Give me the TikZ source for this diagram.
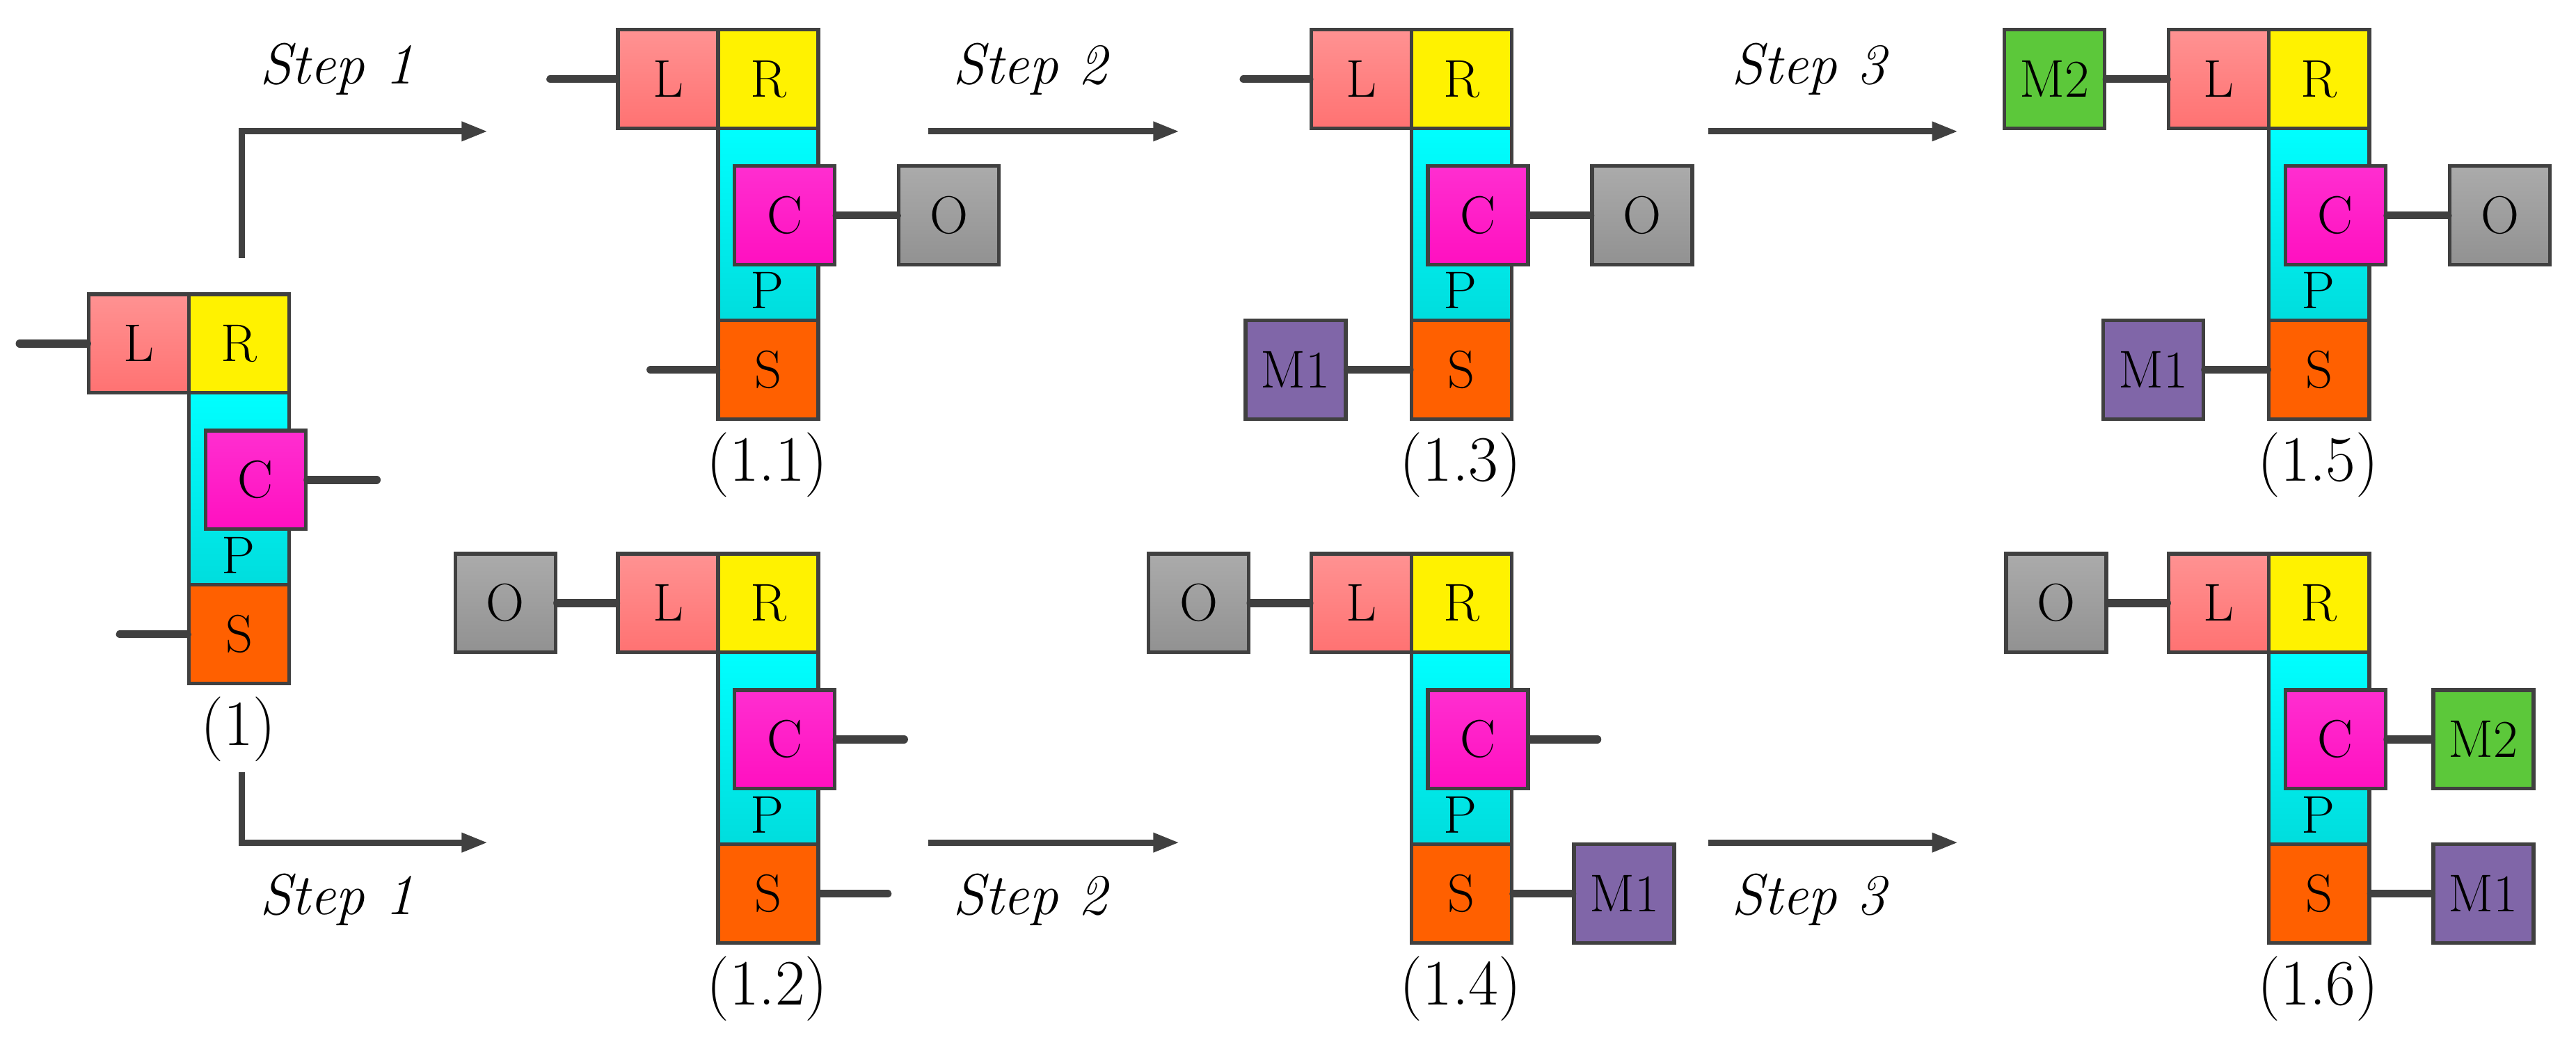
\documentclass[tikz,border=0pt]{standalone}
\usetikzlibrary{arrows.meta,positioning}
\definecolor{bd}{HTML}{404040}
\tikzset{
 x=0.05cm,y=-0.05cm,
 box/.style={draw=bd,line width=3.2pt,minimum width=3.05cm,minimum height=3.0cm,inner sep=0pt,anchor=north west,font=\fontsize{46}{46}\selectfont},
 Lb/.style={box,top color={rgb,255:red,255;green,146;blue,146},bottom color={rgb,255:red,255;green,114;blue,114}},
 Rb/.style={box,fill=yellow},
 Cb/.style={box,top color={rgb,255:red,255;green,46;blue,208},bottom color={rgb,255:red,255;green,16;blue,192}},
 Sb/.style={box,fill={rgb,255:red,255;green,96;blue,0}},
 Ob/.style={box,top color=black!33,bottom color=black!43},
 M1b/.style={box,fill={rgb,255:red,128;green,102;blue,168}},
 M2b/.style={box,fill={rgb,255:red,92;green,200;blue,58}},
 col/.style={draw=bd,line width=3.2pt,minimum width=3.05cm,minimum height=5.85cm,inner sep=0pt,anchor=north west,top color=cyan,bottom color={rgb,255:red,0;green,221;blue,221}},
 con/.style={draw=bd,line width=7pt,line cap=round},
 arr/.style={draw=bd,line width=5.5pt,-{Triangle[length=0.8cm,width=0.55cm]}},
 lab/.style={font=\fontsize{56}{56}\selectfont},
 st/.style={font=\fontsize{50}{50}\selectfont\itshape},
}
\newcommand\mystruct[4]{%
 \node[col] (#1col) at (#2+61,#3+60) {};
 \node[font=\fontsize{46}{46}\selectfont] (#1P) at (#2+92,#3+160) {P};
 \node[Lb] (#1L) at (#2,#3) {L};
 \node[Rb] (#1R) at (#2+61,#3) {R};
 \node[Cb] (#1C) at (#2+71,#3+83) {C};
 \node[Sb] (#1S) at (#2+61,#3+177) {S};
 \node[lab] (#1lab) at (#2+92,#3+266) {#4};
}
\newcommand\freeend[3]{\coordinate (#1) at ([xshift=#3*0.05cm]#2);\draw[con] (#2) -- (#1);}
\begin{document}
\begin{tikzpicture}
\useasboundingbox (0,0) rectangle (1568,633);
\mystruct{a}{53}{178}{(1)}
\mystruct{b}{375}{17}{(1.1)}
\mystruct{c}{797}{17}{(1.3)}
\mystruct{d}{1319}{17}{(1.5)}
\mystruct{e}{375}{336}{(1.2)}
\mystruct{f}{797}{336}{(1.4)}
\mystruct{g}{1319}{336}{(1.6)}
% (1)
\freeend{a1}{aL.west}{-41}
\freeend{a2}{aC.east}{42}
\freeend{a3}{aS.west}{-41}
% (1.1)
\freeend{b1}{bL.west}{-40}
\node[Ob] (bO) at (546,100) {O}; \draw[con] (bC.east) -- (bO.west);
\freeend{b3}{bS.west}{-40}
% (1.3)
\freeend{c1}{cL.west}{-40}
\node[Ob] (cO) at (968,100) {O}; \draw[con] (cC.east) -- (cO.west);
\node[M1b] (cM) at (757,194) {M1}; \draw[con] (cM.east) -- (cS.west);
% (1.5)
\node[M2b] (dM2) at (1219,17) {M2}; \draw[con] (dM2.east) -- (dL.west);
\node[Ob] (dO) at (1490,100) {O}; \draw[con] (dC.east) -- (dO.west);
\node[M1b] (dM) at (1279,194) {M1}; \draw[con] (dM.east) -- (dS.west);
% (1.2)
\node[Ob] (eO) at (276,336) {O}; \draw[con] (eO.east) -- (eL.west);
\freeend{e2}{eC.east}{41}
\freeend{e3}{eS.east}{41}
% (1.4)
\node[Ob] (fO) at (698,336) {O}; \draw[con] (fO.east) -- (fL.west);
\freeend{f2}{fC.east}{41}
\node[M1b] (fM) at (957,513) {M1}; \draw[con] (fS.east) -- (fM.west);
% (1.6)
\node[Ob] (gO) at (1220,336) {O}; \draw[con] (gO.east) -- (gL.west);
\node[M2b] (gM2) at (1480,419) {M2}; \draw[con] (gC.east) -- (gM2.west);
\node[M1b] (gM) at (1480,513) {M1}; \draw[con] (gS.east) -- (gM.west);
% arrows
\coordinate (s1a) at (147,157); \coordinate (s1b) at (297,80);
\draw[arr] (s1a) |- (s1b);
\node[st] (t1) at (205,42) {Step 1};
\coordinate (s2a) at (147,470); \coordinate (s2b) at (297,513);
\draw[arr] (s2a) |- (s2b);
\node[st] (t2) at (205,548) {Step 1};
\coordinate (s3a) at (565,80); \coordinate (s3b) at (718,80); \draw[arr] (s3a) -- (s3b);
\node[st] (t3) at (627,42) {Step 2};
\coordinate (s4a) at (1040,80); \coordinate (s4b) at (1192,80); \draw[arr] (s4a) -- (s4b);
\node[st] (t4) at (1101,42) {Step 3};
\coordinate (s5a) at (565,513); \coordinate (s5b) at (718,513); \draw[arr] (s5a) -- (s5b);
\node[st] (t5) at (627,548) {Step 2};
\coordinate (s6a) at (1040,513); \coordinate (s6b) at (1192,513); \draw[arr] (s6a) -- (s6b);
\node[st] (t6) at (1101,548) {Step 3};
\end{tikzpicture}
\end{document}
